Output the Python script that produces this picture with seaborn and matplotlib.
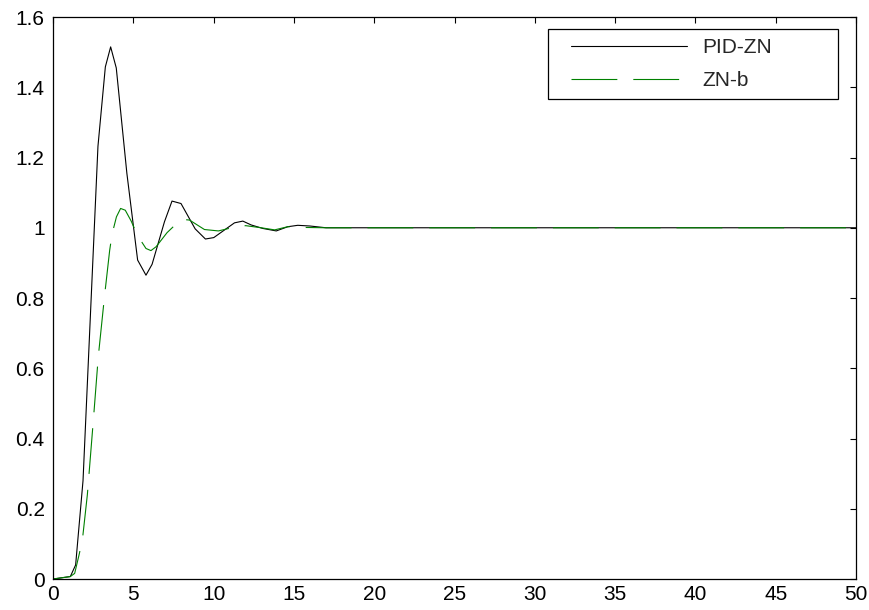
import matplotlib
matplotlib.use("Agg")
import matplotlib.pyplot as plt
import seaborn as sns
import pandas as pd
from matplotlib.legend_handler import HandlerLine2D
from matplotlib.ticker import FuncFormatter

# ---- data ----
t_pid = [0, 1.08, 1.41, 1.87, 2.80, 3.26, 3.59, 3.94, 4.60, 5.27, 5.79, 6.17,
         6.94, 7.41, 7.97, 8.85, 9.49, 10.01, 11.30, 11.82, 12.34, 13.07, 13.90,
         14.62, 15.24, 16.0, 17.0, 50.0]
y_pid = [0, 0.007, 0.04, 0.28, 1.232, 1.458, 1.515, 1.455, 1.155, 0.908, 0.865,
         0.896, 1.017, 1.076, 1.069, 0.997, 0.968, 0.972, 1.014, 1.019, 1.008,
         0.998, 0.991, 1.003, 1.007, 1.005, 1.0, 1.0]

t_znb = [0, 1.08, 1.35, 1.62, 1.83, 2.14, 2.53, 2.82, 3.22, 3.53, 3.68, 3.95,
         4.21, 4.50, 4.87, 5.25, 5.79, 6.10, 6.42, 7.10, 7.81, 7.98, 8.50, 9.43,
         10.30, 11.40, 12.00, 12.96, 13.80, 14.62, 15.50, 17.0, 50.0]
y_znb = [0, 0.007, 0.016, 0.068, 0.111, 0.24, 0.462, 0.633, 0.81, 0.936, 0.982,
         1.031, 1.055, 1.050, 1.019, 0.979, 0.941, 0.935, 0.946, 0.986, 1.017,
         1.024, 1.022, 0.995, 0.991, 1.003, 1.006, 1.0, 0.994, 1.003, 1.001,
         1.0, 1.0]

labels = ["PID-ZN", "ZN-b"]
x_ticks = [0, 5, 10, 15, 20, 25, 30, 35, 40, 45, 50]
y_ticks = [0, 0.2, 0.4, 0.6, 0.8, 1.0, 1.2, 1.4, 1.6]

# ---- style ----
sns.set_theme(style="white")
plt.rcParams["font.family"] = ["Liberation Sans", "DejaVu Sans"]
plt.rcParams["lines.scale_dashes"] = False
plt.rcParams["axes.edgecolor"] = "black"
plt.rcParams["axes.linewidth"] = 0.9

fig = plt.figure(figsize=(8.7, 6.1), dpi=100)
ax = fig.add_axes([0.0609, 0.0508, 0.9231, 0.9213])

df_pid = pd.DataFrame({"t": t_pid, "y": y_pid})
df_znb = pd.DataFrame({"t": t_znb, "y": y_znb})

sns.lineplot(data=df_pid, x="t", y="y", ax=ax, color="black", linewidth=0.8,
             label=labels[0], estimator=None, sort=False)
sns.lineplot(data=df_znb, x="t", y="y", ax=ax, color="#008000", linewidth=0.8,
             label=labels[1], estimator=None, sort=False,
             linestyle=(0, (33, 11.5)))

ax.set_xlim(0, 50)
ax.set_ylim(0, 1.6)
ax.set_xticks(x_ticks)
ax.set_yticks(y_ticks)
fmt = FuncFormatter(lambda v, p: f"{v:g}")
ax.xaxis.set_major_formatter(fmt)
ax.yaxis.set_major_formatter(fmt)
ax.set_xlabel("")
ax.set_ylabel("")
ax.tick_params(direction="in", length=4.5, width=0.8, top=True, right=True,
               labelsize=15, colors="black")
ax.tick_params(axis="y", pad=6)
ax.tick_params(axis="x", pad=4.5)
for s in ax.spines.values():
    s.set_visible(True)
    s.set_color("black")

handler = HandlerLine2D(marker_pad=0, xpad=0.66)
handles, labs = ax.get_legend_handles_labels()
leg = ax.legend(handles, labs, loc="upper left",
                bbox_to_anchor=(0.6164, 0.9786, 0.3612, 0.0), mode="expand",
                borderaxespad=0, fontsize=15, frameon=True, fancybox=False,
                shadow=False, framealpha=1, edgecolor="black",
                handlelength=6.25, handletextpad=0.71, borderpad=0.43,
                labelspacing=0.68,
                handler_map={h: handler for h in handles})
leg.get_frame().set_linewidth(0.9)

fig.savefig("out.png", dpi=100)
